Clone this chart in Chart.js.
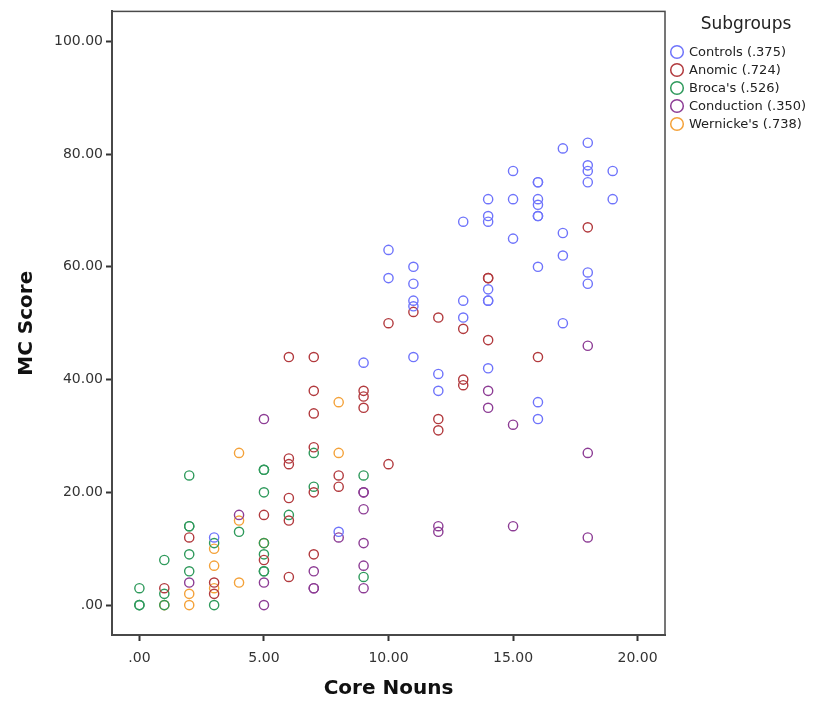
<!DOCTYPE html>
<html>
<head>
<meta charset="utf-8">
<script src="https://cdn.jsdelivr.net/npm/chart.js@4"></script>
<style>
  html, body { margin: 0; padding: 0; background: #fff; }
</style>
</head>
<body>
<canvas id="chart" width="828" height="706"></canvas>
<script>
// tick values
const xTicks = [0, 5, 10, 15, 20];
const yTicks = [0, 20, 40, 60, 80, 100];

// subgroup labels (legend)
const groupLabels = ["Controls (.375)", "Anomic (.724)", "Broca's (.526)", "Conduction (.350)", "Wernicke's (.738)"];

// [core nouns, MC score] per subject
const controls = [[3,12],[8,13],[9,43],[10,63],[10,58],[11,60],[11,57],[11,54],[11,53],[11,44],[12,41],[12,38],
  [13,68],[13,54],[13,51],[14,72],[14,69],[14,68],[14,56],[14,54],[14,54],[14,42],[15,77],[15,72],[15,65],
  [16,75],[16,75],[16,72],[16,71],[16,69],[16,69],[16,60],[16,36],[16,33],[17,81],[17,66],[17,62],[17,50],
  [18,82],[18,78],[18,77],[18,75],[18,59],[18,57],[19,77],[19,72]];
const anomic = [[1,3],[2,12],[3,4],[3,2],[5,16],[5,8],[6,44],[6,26],[6,25],[6,19],[6,15],[6,5],[7,44],[7,38],
  [7,34],[7,28],[7,20],[7,9],[8,23],[8,21],[9,38],[9,37],[9,35],[10,50],[10,25],[11,52],[12,51],[12,33],[12,31],
  [13,49],[13,40],[13,39],[14,58],[14,58],[14,47],[16,44],[18,67]];
const brocas = [[0,3],[0,0],[0,0],[1,8],[1,2],[1,0],[2,23],[2,14],[2,14],[2,9],[2,6],[3,11],[3,0],[4,13],
  [5,24],[5,24],[5,20],[5,11],[5,9],[5,6],[5,6],[6,16],[7,27],[7,21],[9,23],[9,5]];
const conduction = [[2,4],[4,16],[5,33],[5,4],[5,0],[7,6],[7,3],[7,3],[8,12],[9,20],[9,20],[9,17],[9,11],[9,7],
  [9,3],[12,14],[12,13],[14,38],[14,35],[15,32],[15,14],[18,46],[18,27],[18,12]];
const wernickes = [[1,0],[2,2],[2,0],[3,10],[3,7],[3,3],[4,27],[4,15],[4,4],[5,11],[8,36],[8,27]];

const groups = [controls, anomic, brocas, conduction, wernickes];
const groupColors = ['#6f74fb', '#b23a3e', '#2f9a5c', '#8d3d95', '#f4a23a'];

const fmt = v => (v === 0 ? '.00' : v.toFixed(2));

// box around the plot + legend on the right
const framePlugin = {
    id: 'frame',
    afterDraw(chart) {
        const { ctx, chartArea: a } = chart;
        ctx.save();
        ctx.strokeStyle = '#4a4a4a';
        ctx.lineWidth = 1.5;
        ctx.strokeRect(a.left, a.top, a.right - a.left, a.bottom - a.top);

        // legend
        ctx.fillStyle = '#222';
        ctx.font = '17px "DejaVu Sans"';
        ctx.textAlign = 'center';
        ctx.textBaseline = 'middle';
        ctx.fillText('Subgroups', 746, 25);
        ctx.font = '13px "DejaVu Sans"';
        ctx.textAlign = 'left';
        chart.data.datasets.forEach((ds, i) => {
            const y = 52 + i * 18;
            ctx.beginPath();
            ctx.arc(677, y, 6.3, 0, Math.PI * 2);
            ctx.strokeStyle = ds.borderColor;
            ctx.lineWidth = 1.5;
            ctx.stroke();
            ctx.fillStyle = '#222';
            ctx.fillText(ds.label, 689, y + 1);
        });
        ctx.restore();
    }
};

new Chart(document.getElementById('chart'), {
    type: 'scatter',
    data: {
        datasets: groups.map((g, i) => ({
            label: groupLabels[i],
            data: g.map(p => ({ x: p[0], y: p[1] })),
            borderColor: groupColors[i],
            backgroundColor: 'rgba(0,0,0,0)',
            pointRadius: 4.6,
            pointBorderWidth: 1.4,
            pointHoverRadius: 4.6
        }))
    },
    options: {
        responsive: false,
        animation: false,
        devicePixelRatio: 1,
        layout: { padding: { top: 8, right: 163, bottom: 0, left: 0 } },
        plugins: { legend: { display: false }, tooltip: { enabled: false } },
        scales: {
            x: {
                type: 'linear',
                min: -1.1,
                max: 21.1,
                afterBuildTicks: s => { s.ticks = xTicks.map(v => ({ value: v })); },
                afterFit: s => { s.height = 71; },
                grid: { drawOnChartArea: false, drawTicks: true, tickLength: 6, tickWidth: 2, tickColor: '#333' },
                border: { display: true, color: '#444', width: 2 },
                ticks: { callback: fmt, color: '#333', padding: 9, maxRotation: 0, font: { family: 'DejaVu Sans', size: 14 } },
                title: { display: true, text: 'Core Nouns', color: '#111', padding: { top: 0, bottom: 5 },
                         font: { family: 'DejaVu Sans', size: 20, weight: 'bold' } }
            },
            y: {
                type: 'linear',
                min: -5.3,
                max: 105.3,
                afterBuildTicks: s => { s.ticks = yTicks.map(v => ({ value: v })); },
                afterFit: s => { s.width = 112; },
                grid: { drawOnChartArea: false, drawTicks: true, tickLength: 6, tickWidth: 2, tickColor: '#333' },
                border: { display: true, color: '#444', width: 2 },
                ticks: { callback: fmt, color: '#333', padding: 3, font: { family: 'DejaVu Sans', size: 14 } },
                title: { display: true, text: 'MC Score', color: '#111', padding: { top: 15, bottom: 0 },
                         font: { family: 'DejaVu Sans', size: 20, weight: 'bold' } }
            }
        }
    },
    plugins: [framePlugin]
});
</script>
</body>
</html>
